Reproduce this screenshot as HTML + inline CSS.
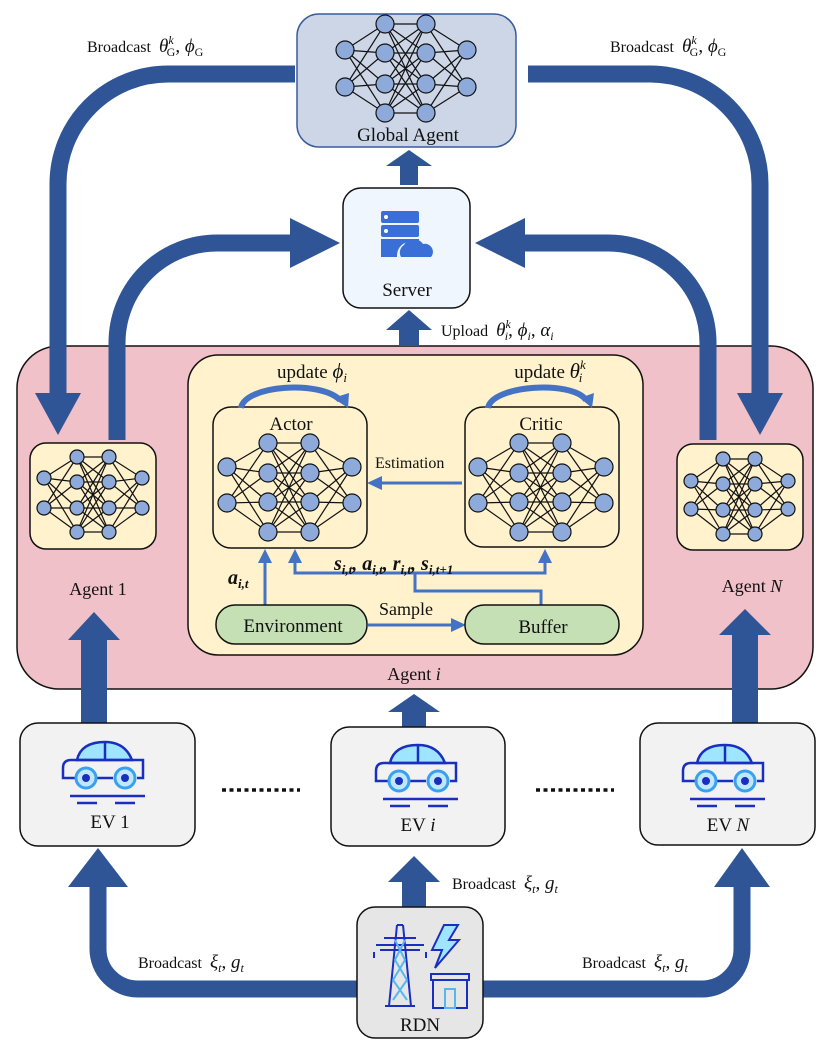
<!DOCTYPE html>
<html><head><meta charset="utf-8">
<style>
html,body{margin:0;padding:0;background:#fff;}
svg{display:block;font-family:"Liberation Serif",serif;}
.t{font-size:17px;fill:#111;}
.m{font-style:italic;}
.b{font-size:19px;font-style:italic;}
</style></head>
<body>
<svg id="s" width="830" height="1050" viewBox="0 0 830 1050" xmlns="http://www.w3.org/2000/svg">
<rect width="830" height="1050" fill="#fff"/>

<rect x="17" y="346" width="796" height="343" rx="42" fill="#f0c1c9" stroke="#111" stroke-width="1.5"/>
<rect x="188" y="355" width="455" height="300" rx="30" fill="#fff2cc" stroke="#111" stroke-width="1.5"/>

<g fill="none" stroke="#2f5597" stroke-width="17">
  <path d="M295 74 H168 A110 110 0 0 0 58 184 V395"/>
  <path d="M117 440 V343 A100 100 0 0 1 217 243 H292"/>
  <path d="M528 74 H650 A110 110 0 0 1 760 184 V395"/>
  <path d="M708 440 V343 A100 100 0 0 0 608 243 H525"/>
  <path d="M357 989 H138 A40 40 0 0 1 98 949 V886"/>
  <path d="M483 989 H702 A40 40 0 0 0 742 949 V886"/>
</g>
<g fill="#2f5597">
  <polygon points="35,393 81,393 58,435"/>
  <polygon points="737,393 783,393 760,435"/>
  <polygon points="290,218 290,268 340,243"/>
  <polygon points="525,218 525,268 475,243"/>
  <polygon points="68,887 128,887 98,848"/>
  <polygon points="714,887 770,887 742,848"/>
  <rect x="400" y="165" width="18" height="20"/><polygon points="386,166 432,166 409,150"/>
  <rect x="399" y="328" width="20" height="18"/><polygon points="386,330 432,330 409,310"/>
  <rect x="81" y="638" width="26" height="86"/><polygon points="68,640 120,640 94,612"/>
  <rect x="732" y="633" width="26" height="91"/><polygon points="719,635 771,635 745,609"/>
  <rect x="402" y="710" width="24" height="18"/><polygon points="388,712 440,712 414,694"/>
  <rect x="402" y="880" width="24" height="27"/><polygon points="388,882 440,882 414,856"/>
</g>

<rect x="297" y="14" width="219" height="133" rx="22" fill="#ccd6e6" stroke="#3a5b9a" stroke-width="1.5"/>
<g id="gnet"></g>
<text x="408" y="141" text-anchor="middle" class="t" style="font-size:19px">Global Agent</text>

<rect x="343" y="188" width="127" height="120" rx="18" fill="#f0f6fd" stroke="#111" stroke-width="1.5"/>
<g fill="#3a6fd8">
  <rect x="381" y="211" width="38" height="12" rx="2"/>
  <rect x="381" y="225" width="38" height="12" rx="2"/>
  <path d="M381 239 H419 V244 A14 14 0 0 0 397 256 V257 H381 Z"/>
  <path d="M401 257 A9 9 0 0 1 404 245 A11 11 0 0 1 423 244 A8 8 0 0 1 431 257 Z"/>
</g>
<circle cx="386" cy="217" r="2" fill="#fff"/><circle cx="386" cy="231" r="2" fill="#fff"/>
<text x="407" y="296" text-anchor="middle" class="t" style="font-size:19px">Server</text>

<text x="87" y="52" class="t" style="font-size:16px">Broadcast <tspan class="b" dx="4">θ</tspan><tspan font-size="12" dy="-8" class="m">k</tspan><tspan font-size="12" dy="12" dx="-7">G</tspan><tspan dy="-4" font-size="19">, </tspan><tspan class="b">ϕ</tspan><tspan font-size="12" dy="4">G</tspan></text>
<text x="610" y="52" class="t" style="font-size:16px">Broadcast <tspan class="b" dx="4">θ</tspan><tspan font-size="12" dy="-8" class="m">k</tspan><tspan font-size="12" dy="12" dx="-7">G</tspan><tspan dy="-4" font-size="19">, </tspan><tspan class="b">ϕ</tspan><tspan font-size="12" dy="4">G</tspan></text>
<text x="441" y="336" class="t" style="font-size:16px">Upload <tspan class="b" dx="4">θ</tspan><tspan font-size="12" dy="-8" class="m">k</tspan><tspan font-size="12" dy="12" dx="-6" class="m">i</tspan><tspan dy="-4" font-size="19">, </tspan><tspan class="b">ϕ</tspan><tspan font-size="12" dy="4" class="m">i</tspan><tspan dy="-4" font-size="19">, </tspan><tspan class="b">α</tspan><tspan font-size="12" dy="4" class="m">i</tspan></text>

<rect x="30" y="443" width="126" height="106" rx="16" fill="#fff2cc" stroke="#111" stroke-width="1.5"/>
<rect x="677" y="444" width="126" height="106" rx="16" fill="#fff2cc" stroke="#111" stroke-width="1.5"/>
<g id="a1net"></g><g id="aNnet"></g>
<text x="98" y="595" text-anchor="middle" class="t" style="font-size:18px">Agent 1</text>
<text x="752" y="592" text-anchor="middle" class="t" style="font-size:18px">Agent <tspan class="m">N</tspan></text>
<text x="414" y="680" text-anchor="middle" class="t" style="font-size:18px">Agent <tspan class="m">i</tspan></text>

<rect x="213" y="407" width="154" height="141" rx="18" fill="#fff2cc" stroke="#111" stroke-width="1.5"/>
<rect x="465" y="407" width="154" height="140" rx="18" fill="#fff2cc" stroke="#111" stroke-width="1.5"/>
<g id="actnet"></g><g id="crinet"></g>
<text x="291" y="430" text-anchor="middle" class="t" style="font-size:19px">Actor</text>
<text x="541" y="430" text-anchor="middle" class="t" style="font-size:19px">Critic</text>
<text x="312" y="378" text-anchor="middle" class="t" style="font-size:19px">update <tspan class="m" font-size="21">ϕ</tspan><tspan font-size="13" dy="4" class="m">i</tspan></text>
<text x="550" y="378" text-anchor="middle" class="t" style="font-size:19px">update <tspan class="m" font-size="21">θ</tspan><tspan font-size="13" dy="-9" class="m">k</tspan><tspan font-size="13" dy="13" dx="-7" class="m">i</tspan></text>

<g fill="none" stroke="#4472c4" stroke-width="3">
  <path d="M241 408 C245 385 320 380 340 400" stroke-width="6"/>
  <path d="M488 408 C492 385 572 380 586 400" stroke-width="6"/>
  <path d="M462 483 H380"/>
  <path d="M265 605 V560"/>
  <path d="M295 562 V573 H545 V562"/>
  <path d="M415 573 V591 H541 V605"/>
  <path d="M368 625 H452"/>
</g>
<g fill="#4472c4">
  <polygon points="333,398 348,408 349,393"/>
  <polygon points="580,398 592,408 594,393"/>
  <polygon points="367,483 382,476 382,490"/>
  <polygon points="265,549 258,563 272,563"/>
  <polygon points="295,549 288,563 302,563"/>
  <polygon points="545,549 538,563 552,563"/>
  <polygon points="466,625 451,618 451,632"/>
</g>
<text x="375" y="468" class="t" style="font-size:16px">Estimation</text>
<text x="379" y="615" class="t" style="font-size:18px">Sample</text>
<text x="334" y="570" class="t m" style="font-size:20px;font-weight:bold">s<tspan font-size="13" dy="4">i,t</tspan><tspan dy="-4">, a</tspan><tspan font-size="13" dy="4">i,t</tspan><tspan dy="-4">, r</tspan><tspan font-size="13" dy="4">i,t</tspan><tspan dy="-4">, s</tspan><tspan font-size="13" dy="4">i,t+1</tspan></text>
<text x="228" y="584" class="t m" style="font-size:20px;font-weight:bold">a<tspan font-size="13" dy="4">i,t</tspan></text>

<rect x="216" y="605" width="151" height="39" rx="19" fill="#c5e0b4" stroke="#111" stroke-width="1.5"/>
<rect x="465" y="605" width="154" height="39" rx="19" fill="#c5e0b4" stroke="#111" stroke-width="1.5"/>
<text x="293" y="632" text-anchor="middle" class="t" style="font-size:19px">Environment</text>
<text x="543" y="633" text-anchor="middle" class="t" style="font-size:19px">Buffer</text>

<rect x="20" y="723" width="175" height="123" rx="18" fill="#f2f2f2" stroke="#111" stroke-width="1.5"/>
<rect x="331" y="727" width="174" height="119" rx="18" fill="#f2f2f2" stroke="#111" stroke-width="1.5"/>
<rect x="640" y="723" width="175" height="122" rx="18" fill="#f2f2f2" stroke="#111" stroke-width="1.5"/>
<g id="car1" transform="translate(105,0)"></g>
<g id="cari" transform="translate(418,3)"></g>
<g id="carN" transform="translate(725,3)"></g>
<text x="110" y="828" text-anchor="middle" class="t" style="font-size:19px">EV 1</text>
<text x="418" y="831" text-anchor="middle" class="t" style="font-size:19px">EV <tspan class="m">i</tspan></text>
<text x="728" y="831" text-anchor="middle" class="t" style="font-size:19px">EV <tspan class="m">N</tspan></text>
<line x1="222" y1="790" x2="300" y2="790" stroke="#111" stroke-width="3.5" stroke-dasharray="4,3.5"/>
<line x1="536" y1="790" x2="614" y2="790" stroke="#111" stroke-width="3.5" stroke-dasharray="4,3.5"/>

<rect x="357" y="907" width="126" height="131" rx="18" fill="#e6e6e6" stroke="#111" stroke-width="1.5"/>
<g fill="none" stroke="#1a2fc0" stroke-width="2">
  <path d="M397 925 L389 1006 M403 925 L411 1006 M397 925 H403"/>
  <path d="M376 945 H424 M380 950 H420 M374 952 L374 958 M426 952 V958 M384 938 H416"/>
  <path d="M385 1006 H415"/>
  <path d="M444 925 L432 950 H442 L435 968 L459 940 H449 L458 925 Z" fill="#9fe5ff"/>
  <rect x="431" y="974" width="38" height="6"/>
  <rect x="433" y="980" width="34" height="28"/>
</g>
<g fill="none" stroke="#54b8f0" stroke-width="2">
  <path d="M395 940 L405 960 L393 980 L407 1000 M405 940 L395 960 L407 980 L393 1000"/>
  <rect x="445" y="989" width="10" height="19"/>
</g>
<text x="420" y="1031" text-anchor="middle" class="t" style="font-size:19px">RDN</text>

<text x="138" y="968" class="t" style="font-size:16px">Broadcast <tspan class="b" dx="4">ξ</tspan><tspan font-size="12" dy="4" class="m">t</tspan><tspan dy="-4" font-size="19">, </tspan><tspan class="b">g</tspan><tspan font-size="12" dy="4" class="m">t</tspan></text>
<text x="582" y="968" class="t" style="font-size:16px">Broadcast <tspan class="b" dx="4">ξ</tspan><tspan font-size="12" dy="4" class="m">t</tspan><tspan dy="-4" font-size="19">, </tspan><tspan class="b">g</tspan><tspan font-size="12" dy="4" class="m">t</tspan></text>
<text x="452" y="889" class="t" style="font-size:16px">Broadcast <tspan class="b" dx="4">ξ</tspan><tspan font-size="12" dy="4" class="m">t</tspan><tspan dy="-4" font-size="19">, </tspan><tspan class="b">g</tspan><tspan font-size="12" dy="4" class="m">t</tspan></text>
</svg>
<script>
var NS="http://www.w3.org/2000/svg";
function el(p,n,a){var e=document.createElementNS(NS,n);for(var k in a)e.setAttribute(k,a[k]);p.appendChild(e);return e;}
function net(id,xs,y4,y2,r){
  var g=document.getElementById(id);
  var L=[y2.map(function(y){return[xs[0],y]}),y4.map(function(y){return[xs[1],y]}),y4.map(function(y){return[xs[2],y]}),y2.map(function(y){return[xs[3],y]})];
  for(var i=0;i<3;i++)L[i].forEach(function(a){L[i+1].forEach(function(b){el(g,"line",{x1:a[0],y1:a[1],x2:b[0],y2:b[1],stroke:"#111","stroke-width":1.2});});});
  L.forEach(function(l){l.forEach(function(p){el(g,"circle",{cx:p[0],cy:p[1],r:r,fill:"#8eaadb",stroke:"#111","stroke-width":1.2});});});
}
net("gnet",[345,385,426,467],[24,53,84,113],[50,87],9);
net("a1net",[44,77,109,142],[457,482,508,532],[478,508],7);
net("aNnet",[691,723,755,788],[459,484,510,534],[481,509],7);
net("actnet",[227,268,310,352],[443,473,502,532],[467,503],9);
net("crinet",[478,519,562,604],[443,473,502,532],[467,503],9);
function car(id,y0){
  var g=document.getElementById(id);
  g.innerHTML='<path d="M-28 '+(y0+20)+' Q-24 '+(y0+2)+' 0 '+(y0+2)+' Q20 '+(y0+2)+' 27 '+(y0+20)+' Z" fill="#9fe5ff" stroke="#1a2fc0" stroke-width="2.5"/>'+
  '<line x1="0" y1="'+(y0+2)+'" x2="0" y2="'+(y0+20)+'" stroke="#1a2fc0" stroke-width="2.5"/>'+
  '<path d="M-30 '+(y0+38)+' H-42 V'+(y0+28)+' Q-42 '+(y0+20)+' -34 '+(y0+20)+' H38 V'+(y0+38)+' H32 M8 '+(y0+38)+' H-8" fill="none" stroke="#1a2fc0" stroke-width="2.5"/>'+
  '<circle cx="-19" cy="'+(y0+38)+'" r="10" fill="#bfe8ff" stroke="#3aa0f0" stroke-width="3"/><circle cx="-19" cy="'+(y0+38)+'" r="4" fill="#1a2fc0"/>'+
  '<circle cx="20" cy="'+(y0+38)+'" r="10" fill="#bfe8ff" stroke="#3aa0f0" stroke-width="3"/><circle cx="20" cy="'+(y0+38)+'" r="4" fill="#1a2fc0"/>'+
  '<line x1="-35" y1="'+(y0+56)+'" x2="40" y2="'+(y0+56)+'" stroke="#1a2fc0" stroke-width="2.5"/>'+
  '<line x1="-28" y1="'+(y0+63)+'" x2="-8" y2="'+(y0+63)+'" stroke="#1a2fc0" stroke-width="2.5"/><line x1="10" y1="'+(y0+63)+'" x2="30" y2="'+(y0+63)+'" stroke="#1a2fc0" stroke-width="2.5"/>';
}
car("car1",740);car("cari",740);car("carN",740);
</script>
</body></html>
